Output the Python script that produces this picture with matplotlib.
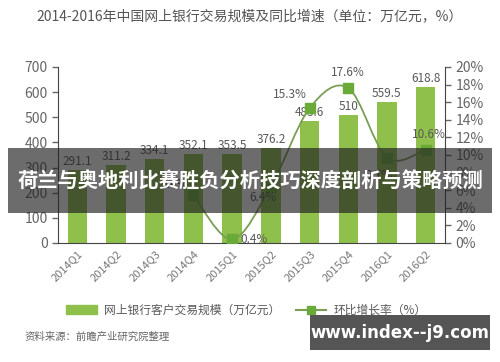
import matplotlib
matplotlib.use('Agg')
from matplotlib import pyplot as plt
from matplotlib.path import Path
from matplotlib.patches import PathPatch, Rectangle
from matplotlib.lines import Line2D
import numpy as np

plt.rcParams['font.family'] = ['Noto Sans CJK SC', 'DejaVu Sans']

quarters = ['2014Q1', '2014Q2', '2014Q3', '2014Q4', '2015Q1', '2015Q2',
            '2015Q3', '2015Q4', '2016Q1', '2016Q2']
volume = [291.1, 311.2, 334.1, 352.1, 353.5, 376.2, 483.6, 510, 559.5, 618.8]
growth_idx = [3, 4, 5, 6, 7, 8, 9]
growth = [5.4, 0.4, 6.4, 15.3, 17.6, 9.7, 10.6]
growth_labels = ['5.4%', '0.4%', '6.4%', '15.3%', '17.6%', '9.7%', '10.6%']

bar_color = '#8fc04c'
line_color = '#7a9e55'
mark_color = '#6aaa38'
grey = '#595959'

fig = plt.figure(figsize=(5, 3.62), dpi=100)
ax = fig.add_axes([0.116, 0.329, 0.774, 0.486])
ax2 = ax.twinx()

x = np.arange(len(quarters))
bars = ax.bar(x, volume, width=0.5, color=bar_color, zorder=2)
for i, v in enumerate(volume):
    ax.text(i, v + 8, ('%g' % v), ha='center', va='bottom', fontsize=8.5, color=grey)

ax.set_xlim(-0.5, 9.5)
ax.set_ylim(0, 700)
ax.set_yticks(range(0, 701, 100))
ax2.set_ylim(0, 20)
ax2.set_yticks(range(0, 21, 2))
ax2.set_yticklabels(['%d%%' % t for t in range(0, 21, 2)])

ax.set_xticks(x)
ax.set_xticklabels(quarters, rotation=45, ha='right', rotation_mode='anchor', fontsize=8, color='#777777')
for a in (ax, ax2):
    a.tick_params(axis='y', labelsize=10, colors='#666666', length=4, width=1)
    a.spines['top'].set_visible(False)
ax.tick_params(axis='x', length=0, pad=4)
ax.spines['right'].set_visible(False)
ax.spines['left'].set_color('#444444')
ax.spines['bottom'].set_color('#444444')
ax2.spines['left'].set_visible(False)
ax2.spines['bottom'].set_visible(False)
ax2.spines['right'].set_color('#444444')

# smooth line through growth points (catmull-rom as bezier)
pts = np.column_stack([growth_idx, growth]).astype(float)
verts = [tuple(pts[0])]
codes = [Path.MOVETO]
for i in range(len(pts) - 1):
    p0 = pts[max(i - 1, 0)]
    p1 = pts[i]
    p2 = pts[i + 1]
    p3 = pts[min(i + 2, len(pts) - 1)]
    c1 = p1 + (p2 - p0) / 6.0
    c2 = p2 - (p3 - p1) / 6.0
    verts += [tuple(c1), tuple(c2), tuple(p2)]
    codes += [Path.CURVE4] * 3
ax2.add_patch(PathPatch(Path(verts, codes), facecolor='none', edgecolor=line_color, lw=1.3, zorder=3))
ax2.plot(growth_idx, growth, ls='none', marker='s', ms=7, color=mark_color, zorder=4)

offsets = {3: (-14, 8), 4: (16, 0), 5: (-6, -8),
           6: (-14, 10), 7: (0, 11), 8: (-6, -13), 9: (2, 11)}
for k, (i, g) in enumerate(zip(growth_idx, growth)):
    dx, dy = offsets[i]
    ax2.annotate(growth_labels[k], (i, g), xytext=(dx, dy), textcoords='offset points',
                 ha='center', va='center', fontsize=8.5, color=grey, zorder=5)

fig.text(0.5, 0.955, '2014-2016年中国网上银行交易规模及同比增速（单位：万亿元，%）',
         ha='center', va='center', fontsize=10, color='#555555')

handles = [Rectangle((0, 0), 1, 1, color=bar_color),
           Line2D([0], [0], color=line_color, lw=1.5, marker='s', ms=6,
                  markerfacecolor=mark_color, markeredgecolor=mark_color)]
fig.legend(handles, ['网上银行客户交易规模（万亿元）', '环比增长率（%）'],
           loc='center', bbox_to_anchor=(0.493, 0.143), ncol=2, frameon=False,
           fontsize=8.5, labelcolor=grey, handlelength=2.6, handletextpad=0.6,
           columnspacing=1.3)
fig.text(0.05, 0.069, '资料来源：前瞻产业研究院整理', ha='left', va='center',
         fontsize=7.5, color='#666666')

# overlay banner
fig.add_artist(Rectangle((0.016, 0.412), 0.968, 0.179, transform=fig.transFigure,
                         facecolor='#1e1e1e', alpha=0.65, edgecolor='none', zorder=10))
fig.text(0.5, 0.5, '荷兰与奥地利比赛胜负分析技巧深度剖析与策略预测', ha='center', va='center',
         fontsize=14.6, fontweight='bold', color='white', zorder=11)

fig.add_artist(Rectangle((0.62, 0.033), 0.36, 0.097, transform=fig.transFigure,
                         facecolor='#555555', edgecolor='none', zorder=10))
fig.text(0.80, 0.081, 'www.index--j9.com', ha='center', va='center',
         fontsize=12, fontweight='bold', color='white', family='DejaVu Sans', zorder=11)

fig.savefig('out.png', dpi=100, facecolor='white')
